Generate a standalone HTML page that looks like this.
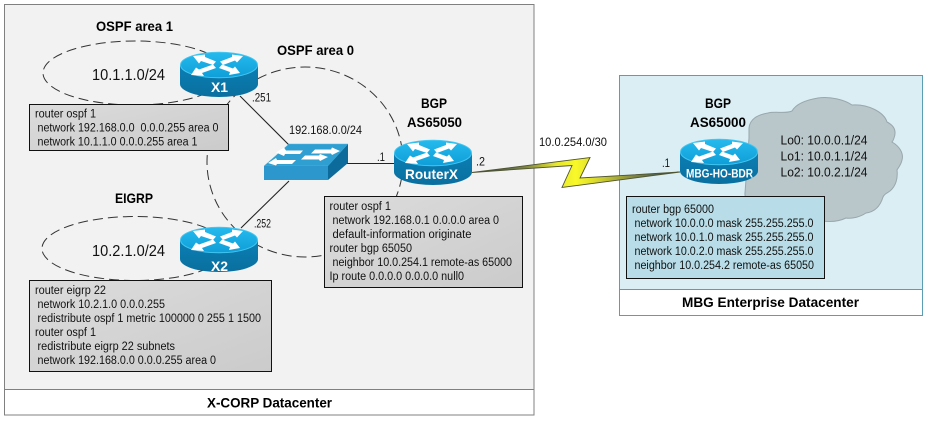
<!DOCTYPE html>
<html>
<head>
<meta charset="utf-8">
<style>
html,body{margin:0;padding:0;background:#fff;width:931px;height:424px;overflow:hidden}
svg{display:block}
text{font-family:"Liberation Sans",sans-serif;fill:#111}
.s{font-size:11.5px}
.b{font-weight:bold;font-size:14px;fill:#000}
.f{font-weight:bold;font-size:13.5px;fill:#000}
.m{font-size:16px}
.l{font-size:12px}
.w{font-weight:bold;fill:#fff}
</style>
</head>
<body>
<svg width="931" height="424" viewBox="0 0 931 424" xmlns="http://www.w3.org/2000/svg">
<defs>
<linearGradient id="bolt" x1="0" y1="0" x2="1" y2="0">
<stop offset="0" stop-color="#22405c"/>
<stop offset=".26" stop-color="#7f8540"/>
<stop offset=".40" stop-color="#e6e62e"/>
<stop offset=".5" stop-color="#f8f82a"/>
<stop offset=".6" stop-color="#d8d82e"/>
<stop offset=".78" stop-color="#7f8540"/>
<stop offset="1" stop-color="#22405c"/>
</linearGradient>
<linearGradient id="grey" x1="0" y1="0" x2="1" y2="1">
<stop offset="0" stop-color="#dcdcdc"/>
<stop offset="1" stop-color="#cbcbcb"/>
</linearGradient>
<linearGradient id="rtop" x1="0" y1="0" x2="0" y2="1">
<stop offset="0" stop-color="#25baee"/>
<stop offset="1" stop-color="#0f9ed8"/>
</linearGradient>
<linearGradient id="rbody" x1="0" y1="0" x2="0" y2="1">
<stop offset="0" stop-color="#0b7fb4"/>
<stop offset="1" stop-color="#0a6f9f"/>
</linearGradient>
<g id="router">
<path d="M0,13 V32 A39,13 0 0 0 78,32 V13 Z" fill="url(#rbody)"/>
<ellipse cx="39" cy="13" rx="38.500" ry="12.800" fill="url(#rtop)" stroke="#45c6f0" stroke-width="1"/>
<path d="M13,4 L25,2.500 L25,5 L36,9.500 L33,13 L21,9 L19,11.500 Z" fill="#fff"/>
<path d="M63,4 L52,2.500 L52,5 L40,9.500 L43,13 L55,8.500 L57,10.500 Z" fill="#fff"/>
<path d="M11,23 L16,15.500 L19,17.500 L33,12.500 L36,16 L22,21 L24,24 Z" fill="#fff"/>
<path d="M60,21 L55,14.500 L53,16.500 L42,12.500 L39,16 L50,20 L49,23 Z" fill="#fff"/>
</g>
</defs>

<!-- containers -->
<rect x="4.500" y="4.500" width="529.500" height="410.500" fill="#f2f2f2" stroke="#808080"/>
<rect x="5" y="389" width="529" height="26" fill="#fff"/>
<path d="M4.500,389.500 H534" stroke="#808080" fill="none"/>
<rect x="4.500" y="4.500" width="529.500" height="410.500" fill="none" stroke="#808080"/>

<rect x="619.500" y="75.500" width="303" height="240" fill="#dbeef4" stroke="#5b9db2"/>
<rect x="620" y="289" width="302" height="26" fill="#fff"/>
<path d="M619.500,289.500 H922.500" stroke="#5b9db2" fill="none"/>

<!-- cloud -->
<path d="M749,128 C750,119 757,115 768,113 C776,111 785,114 792,111 C796,104 806,100 818,98 C830,96 845,100 852,105 C868,104 884,112 887,122 C893,125 897,130 894,138 C893,141 892,142 892,142 C899,146 904,153 902,160 C901,165 898,168 897,170 C898,178 896,186 890,191 C885,194 884,195 883,197 C880,207 874,212 866,213 C860,217 852,219 846,218 C838,222 830,222 822,221 L760,210 C752,204 744,200 745,193 L749,138 C749,134 749,130 749,128 Z" fill="#b9c6ca" stroke="#98a8ad" stroke-width="1"/>

<!-- dashed ellipses -->
<g fill="none" stroke="#333" stroke-width="1" stroke-dasharray="10 5">
<ellipse cx="135" cy="73" rx="92" ry="32"/>
<ellipse cx="135" cy="248.500" rx="93" ry="32"/>
<ellipse cx="305" cy="162" rx="98" ry="95"/>
</g>

<!-- links -->
<g stroke="#222" stroke-width="1.100" fill="none">
<path d="M240,96 L289,145"/>
<path d="M289,181 L241,228"/>
<path d="M346,163.500 H394"/>
</g>

<!-- switch -->
<path d="M264,166 L289,144 H348 L328,166 Z" fill="#2f9fd2" stroke="#55b8e0" stroke-width=".5"/>
<path d="M264,166 H328 V180 H264 Z" fill="#2b97cc"/>
<path d="M328,166 L348,144 V163 L328,180 Z" fill="#0c6b9a"/>
<path d="M284,147.500 L276,152.500 L284,156 L285,154 H300 L303,150.500 H286 Z M332,147.500 L340,151 L332,155 L331,153.500 H311 L315,149.500 H331 Z M276,158 L268,163 L276,165.500 L277,164 H292 L296,160 H277 Z M320,154 L328,157 L320,161 L319,159.500 H301 L305,155.500 H319 Z" fill="#fff"/>

<!-- routers -->
<use href="#router" x="180" y="52"/>
<use href="#router" x="180" y="227"/>
<use href="#router" x="394" y="140"/>
<use href="#router" x="680" y="139"/>

<!-- lightning -->
<polygon points="472,172.500 590,157.500 580,178 680,172 562,187.500 572,165.500" fill="url(#bolt)" stroke="#4f5430" stroke-width=".9" stroke-linejoin="miter"/>

<!-- boxes -->
<rect x="29.500" y="104.500" width="199" height="46" fill="url(#grey)" stroke="#111" stroke-width="1"/>
<rect x="29.500" y="280.500" width="242" height="91" fill="url(#grey)" stroke="#111" stroke-width="1"/>
<rect x="324.500" y="196.500" width="198" height="91" fill="url(#grey)" stroke="#111" stroke-width="1"/>
<rect x="626.500" y="196.500" width="198" height="82" fill="#b8dde8" stroke="#111" stroke-width="1"/>

<!-- box 1 -->
<text class="s" x="35" y="117.500" textLength="61" lengthAdjust="spacingAndGlyphs">router ospf 1</text>
<text class="s" x="37.500" y="131.500" textLength="181" lengthAdjust="spacingAndGlyphs" xml:space="preserve">network 192.168.0.0  0.0.0.255 area 0</text>
<text class="s" x="37.500" y="145.500" textLength="160" lengthAdjust="spacingAndGlyphs">network 10.1.1.0 0.0.0.255 area 1</text>

<!-- box 2 -->
<text class="s" x="35" y="294" textLength="71" lengthAdjust="spacingAndGlyphs">router eigrp 22</text>
<text class="s" x="37.500" y="308" textLength="127.500" lengthAdjust="spacingAndGlyphs">network 10.2.1.0 0.0.0.255</text>
<text class="s" x="37.500" y="322" textLength="223.500" lengthAdjust="spacingAndGlyphs">redistribute ospf 1 metric 100000 0 255 1 1500</text>
<text class="s" x="35" y="336" textLength="61" lengthAdjust="spacingAndGlyphs">router ospf 1</text>
<text class="s" x="37.500" y="350" textLength="137.500" lengthAdjust="spacingAndGlyphs">redistribute eigrp 22 subnets</text>
<text class="s" x="37.500" y="364" textLength="178.500" lengthAdjust="spacingAndGlyphs">network 192.168.0.0 0.0.0.255 area 0</text>

<!-- box 3 -->
<text class="s" x="329.500" y="210" textLength="61.500" lengthAdjust="spacingAndGlyphs">router ospf 1</text>
<text class="s" x="332.500" y="224" textLength="166.500" lengthAdjust="spacingAndGlyphs">network 192.168.0.1 0.0.0.0 area 0</text>
<text class="s" x="332.500" y="238" textLength="139" lengthAdjust="spacingAndGlyphs">default-information originate</text>
<text class="s" x="329.500" y="252" textLength="82.500" lengthAdjust="spacingAndGlyphs">router bgp 65050</text>
<text class="s" x="332.500" y="266" textLength="179.500" lengthAdjust="spacingAndGlyphs">neighbor 10.0.254.1 remote-as 65000</text>
<text class="s" x="329.500" y="280" textLength="134.500" lengthAdjust="spacingAndGlyphs">Ip route 0.0.0.0 0.0.0.0 null0</text>

<!-- box 4 -->
<text class="s" x="632" y="213" textLength="82" lengthAdjust="spacingAndGlyphs">router bgp 65000</text>
<text class="s" x="634.500" y="227" textLength="179" lengthAdjust="spacingAndGlyphs">network 10.0.0.0 mask 255.255.255.0</text>
<text class="s" x="634.500" y="241" textLength="179" lengthAdjust="spacingAndGlyphs">network 10.0.1.0 mask 255.255.255.0</text>
<text class="s" x="634.500" y="255" textLength="179" lengthAdjust="spacingAndGlyphs">network 10.0.2.0 mask 255.255.255.0</text>
<text class="s" x="634.500" y="269" textLength="179.500" lengthAdjust="spacingAndGlyphs">neighbor 10.0.254.2 remote-as 65050</text>

<!-- labels -->
<text class="b" x="96" y="31" textLength="77" lengthAdjust="spacingAndGlyphs">OSPF area 1</text>
<text class="b" x="277" y="55" textLength="77" lengthAdjust="spacingAndGlyphs">OSPF area 0</text>
<text class="b" x="115" y="203" textLength="38" lengthAdjust="spacingAndGlyphs">EIGRP</text>
<text class="b" x="421" y="108" textLength="26" lengthAdjust="spacingAndGlyphs">BGP</text>
<text class="b" x="407" y="127" textLength="55" lengthAdjust="spacingAndGlyphs">AS65050</text>
<text class="b" x="705" y="108" textLength="26" lengthAdjust="spacingAndGlyphs">BGP</text>
<text class="b" x="690" y="127" textLength="56" lengthAdjust="spacingAndGlyphs">AS65000</text>

<text class="m" x="92" y="80" textLength="73" lengthAdjust="spacingAndGlyphs">10.1.1.0/24</text>
<text class="m" x="92" y="256" textLength="73" lengthAdjust="spacingAndGlyphs">10.2.1.0/24</text>

<text class="l" x="252" y="101.500" textLength="19" lengthAdjust="spacingAndGlyphs">.251</text>
<text class="l" x="254" y="227.500" textLength="17" lengthAdjust="spacingAndGlyphs">.252</text>
<text class="l" x="289" y="134" textLength="73" lengthAdjust="spacingAndGlyphs">192.168.0.0/24</text>
<text class="l" x="377" y="161" textLength="8" lengthAdjust="spacingAndGlyphs">.1</text>
<text class="l" x="476" y="165.500" textLength="9" lengthAdjust="spacingAndGlyphs">.2</text>
<text class="l" x="539" y="146" textLength="68" lengthAdjust="spacingAndGlyphs">10.0.254.0/30</text>
<text class="l" x="662" y="167" textLength="8" lengthAdjust="spacingAndGlyphs">.1</text>

<text class="l" x="780.500" y="144.500" textLength="87" lengthAdjust="spacingAndGlyphs" style="font-size:13px">Lo0: 10.0.0.1/24</text>
<text class="l" x="780.500" y="160.500" textLength="87" lengthAdjust="spacingAndGlyphs" style="font-size:13px">Lo1: 10.0.1.1/24</text>
<text class="l" x="780.500" y="176.500" textLength="87" lengthAdjust="spacingAndGlyphs" style="font-size:13px">Lo2: 10.0.2.1/24</text>

<text class="f" x="207" y="407.500" textLength="125" lengthAdjust="spacingAndGlyphs">X-CORP Datacenter</text>
<text class="f" x="682" y="307" textLength="177" lengthAdjust="spacingAndGlyphs">MBG Enterprise Datacenter</text>

<!-- router labels -->
<text class="w" x="211" y="92" font-size="14" textLength="17" lengthAdjust="spacingAndGlyphs">X1</text>
<text class="w" x="211" y="271" font-size="14" textLength="17" lengthAdjust="spacingAndGlyphs">X2</text>
<text class="w" x="405" y="179" font-size="14" textLength="53" lengthAdjust="spacingAndGlyphs">RouterX</text>
<text class="w" x="686" y="177.500" font-size="11.500" textLength="67" lengthAdjust="spacingAndGlyphs">MBG-HO-BDR</text>
</svg>
</body>
</html>
